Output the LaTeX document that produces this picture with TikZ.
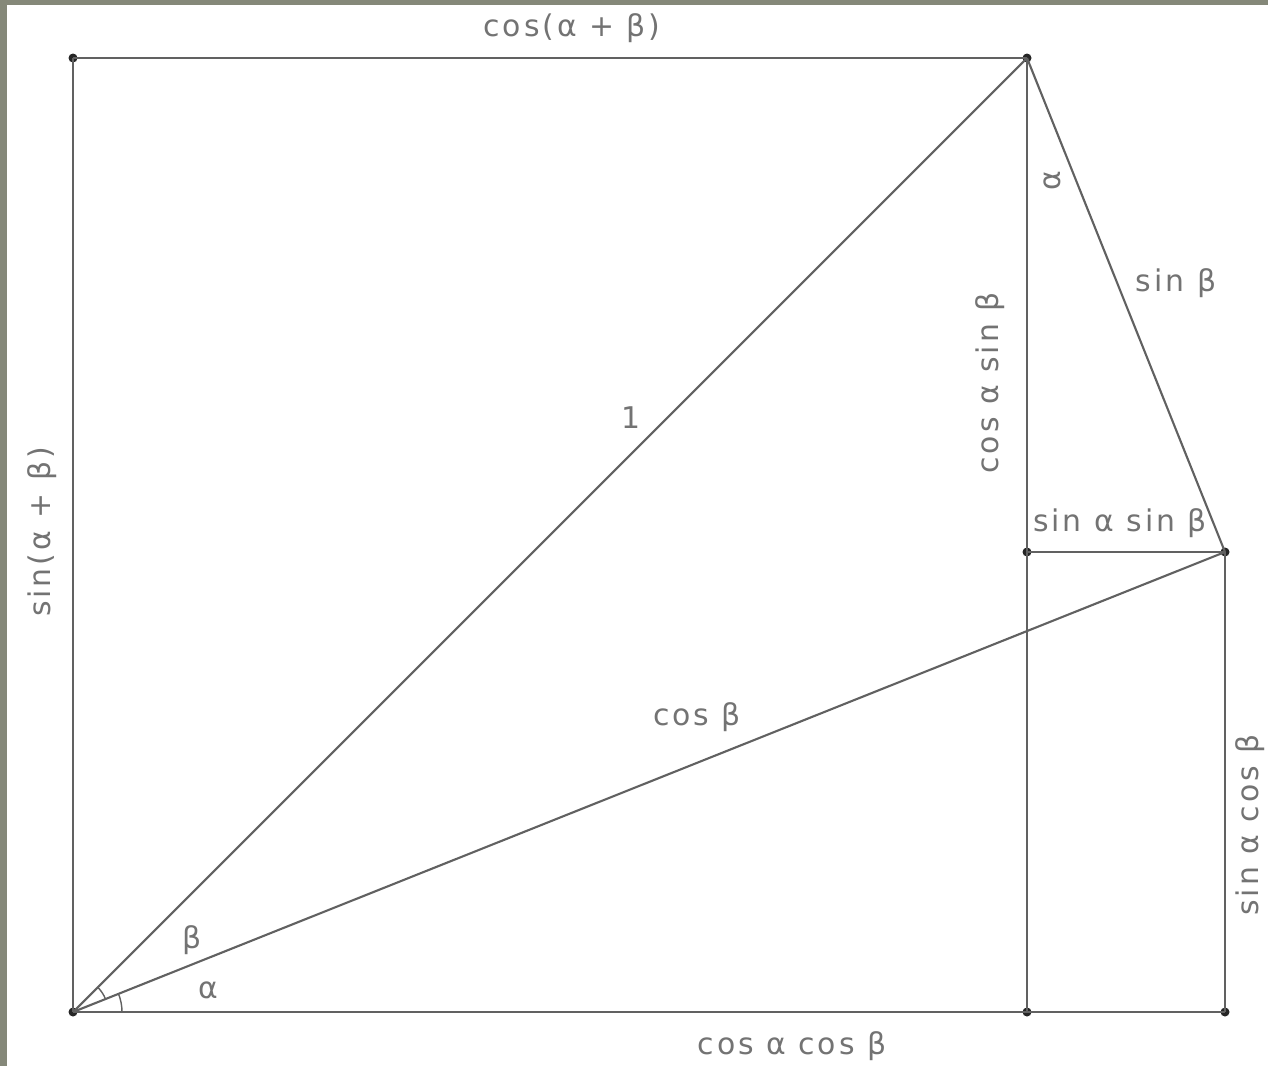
\documentclass[tikz,border=0pt]{standalone}
\usepackage{fontspec}
\setmainfont{DejaVu Sans}[LetterSpace=10]
\definecolor{frame}{RGB}{133,136,121}
\begin{document}
\begin{tikzpicture}[x=0.02cm,y=-0.02cm,
  seg/.style={draw=black!62,line width=1.2pt},
  dot/.style={circle,fill=black!85,inner sep=0pt,minimum size=0.18cm},
  lbl/.style={text=black!55,font=\fontsize{17}{20}\selectfont,inner sep=1pt},
  anglearc/.style={draw=black!62,line width=0.8pt}]
\fill[frame] (0,0) rectangle (1268,1066);
\fill[white] (7,5) rectangle (1268,1066);
\useasboundingbox (0,0) rectangle (1268,1066);
% vertices
\node[dot] (TL) at (73,58) {};
\node[dot] (P) at (1027,58) {};
\node[dot] (O) at (73,1012) {};
\node[dot] (F) at (1027,1012) {};
\node[dot] (G) at (1225,1012) {};
\node[dot] (H) at (1027,552) {};
\node[dot] (Q) at (1225,552) {};
% segments
\draw[seg] (TL.center) -- (P.center);
\draw[seg] (TL.center) -- (O.center);
\draw[seg] (O.center) -- (F.center) -- (G.center);
\draw[seg] (O.center) -- (P.center);
\draw[seg] (O.center) -- (Q.center);
\draw[seg] (P.center) -- (Q.center);
\draw[seg] (P.center) -- (H.center) -- (F.center);
\draw[seg] (H.center) -- (Q.center);
\draw[seg] (Q.center) -- (G.center);
% angle arcs at O
\draw[anglearc] ([shift={(0:49)}]O.center) arc[start angle=0,end angle=-21.8,radius=49];
\draw[anglearc] ([shift={(-21.8:35)}]O.center) arc[start angle=-21.8,end angle=-45,radius=35];
% labels
\node[lbl] (l1) at (572,28) {cos(α + β)};
\node[lbl,rotate=90] (l2) at (42,532) {sin(α + β)};
\node[lbl] (l3) at (631,418) {1};
\node[lbl] (l4) at (697,717) {cos β};
\node[lbl] (l5) at (792,1046) {cos α cos β};
\node[lbl] (l6) at (192,940) {β};
\node[lbl] (l7) at (208,990) {α};
\node[lbl,rotate=90] (l8) at (1052,181) {α};
\node[lbl] (l9) at (1176,283) {sin β};
\node[lbl,rotate=90] (l10) at (990,383) {cos α sin β};
\node[lbl] (l11) at (1120,523) {sin α sin β};
\node[lbl,rotate=90] (l12) at (1250,825) {sin α cos β};
\end{tikzpicture}
\end{document}
